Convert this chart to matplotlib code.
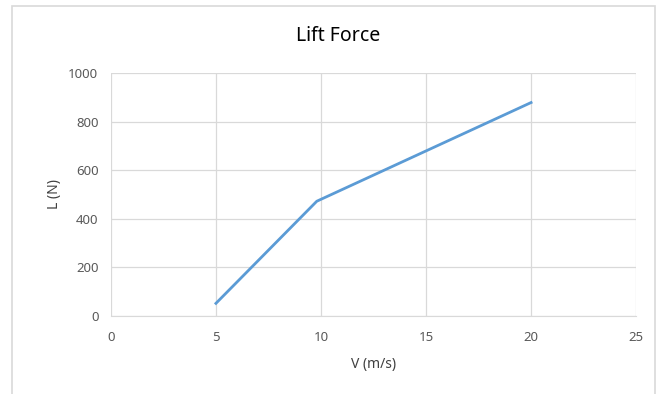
import matplotlib.pyplot as plt
from matplotlib.patches import Rectangle

# lift force vs velocity
v = [5, 9.8, 20]
lift = [52, 472, 878]

plt.rcParams['font.family'] = ['Noto Sans', 'DejaVu Sans']

fig = plt.figure(figsize=(6.64, 3.94), dpi=100)
ax = fig.add_axes([0.167, 0.198, 0.791, 0.617])

# chart border
fig.patches.append(Rectangle((12 / 664, -0.1), (655 - 12) / 664, 1.1 - 6 / 394,
                             transform=fig.transFigure, fill=False,
                             edgecolor='#d9d9d9', lw=1.2))

ax.plot(v, lift, color='#5b9bd5', lw=2.0, solid_joinstyle='round')

ax.set_xlim(0, 25)
ax.set_ylim(0, 1000)
ax.set_xticks(range(0, 26, 5))
ax.set_yticks(range(0, 1001, 200))
ax.grid(True, color='#d9d9d9', lw=0.9)
ax.set_axisbelow(True)
for s in ['top', 'right', 'left']:
    ax.spines[s].set_visible(False)
ax.spines['bottom'].set_color('#d9d9d9')
ax.tick_params(length=0, labelsize=9.5, labelcolor='#595959')
ax.tick_params(axis='x', pad=11)
ax.tick_params(axis='y', pad=9)

fig.text(338 / 664, 1 - 36 / 394, 'Lift Force', fontsize=14,
         ha='center', va='center')
ax.set_xlabel('V (m/s)', fontsize=10, color='#404040', labelpad=9)
ax.set_ylabel('L (N)', fontsize=10, color='#404040', labelpad=14)
ax.yaxis.set_label_coords(-(111 - 62) / 525, 0.5)

fig.savefig('out.png', dpi=100)
